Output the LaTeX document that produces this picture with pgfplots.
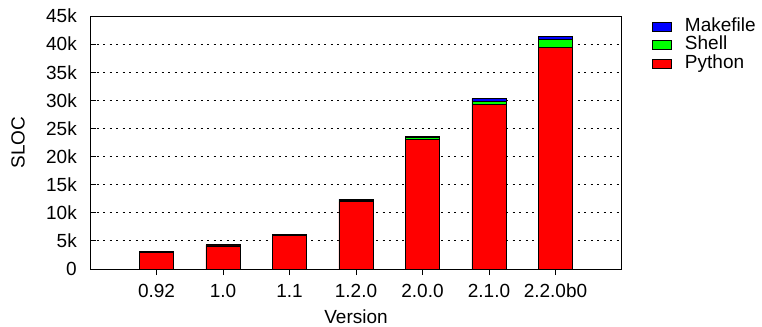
\documentclass[border=0pt]{standalone}
\usepackage{pgfplots}
\pgfplotsset{compat=1.18}
\usepackage{fontspec}
\setmainfont{Liberation Sans}
\definecolor{cR}{RGB}{255,0,0}
\definecolor{cG}{RGB}{0,255,0}
\definecolor{cB}{RGB}{0,0,255}
\begin{document}
\begin{tikzpicture}[font=\fontsize{19bp}{22bp}\selectfont]
\path[use as bounding box] (0,0) rectangle (762bp,327bp);
\begin{axis}[
  at={(90bp,58bp)}, anchor=south west,
  scale only axis, width=532bp, height=253bp,
  xmin=-1, xmax=7, ymin=0, ymax=45000,
  scaled y ticks=false,
  ybar stacked, bar width=34bp,
  axis line style={line width=1bp},
  xtick={0,1,2,3,4,5,6},
  xticklabels={0.92,1.0,1.1,1.2.0,2.0.0,2.1.0,2.2.0b0},
  ytick={0,5000,10000,15000,20000,25000,30000,35000,40000,45000},
  yticklabels={0,5k,10k,15k,20k,25k,30k,35k,40k,45k},
  xtick pos=bottom, ytick pos=left,
  xtick align=outside, ytick align=inside,
  major tick length=6bp,
  tick style={black, line width=0.8bp},
  ymajorgrids,
  grid style={black, line width=0.8bp, dash pattern=on 2bp off 4.5bp},
  yticklabel style={inner sep=0pt, anchor=east, xshift=-13bp},
  xticklabel style={inner sep=0pt, anchor=north, yshift=-9bp},
  xlabel={Version}, ylabel={SLOC},
  xlabel style={at={(axis description cs:0.5,0)}, anchor=north, inner sep=0pt, yshift=-41bp},
  every axis y label/.style={at={(axis description cs:0,0.5)}, xshift=-72bp, rotate=90, anchor=center, inner sep=0pt},
  reverse legend,
  legend style={at={(axis description cs:1,1)}, anchor=north west, xshift=30bp, yshift=-1bp,
    draw=none, fill=none, inner sep=0pt, row sep=0pt,
    nodes={inner sep=0pt, text height=14bp, text depth=4.5bp, anchor=west},
    /tikz/every odd column/.append style={column sep=13bp}},
  legend cell align=left,
  legend image code/.code={\draw[#1,/tikz/.cd,draw=black,line width=0.8bp] (0bp,-4.5bp) rectangle (19bp,4.5bp);},
  every axis plot/.append style={draw=black, line width=0.8bp},
]
\addplot[fill=cR] coordinates {(0,2900) (1,4100) (2,5900) (3,12000) (4,23000) (5,29200) (6,39400)};
\addplot[fill=cG] coordinates {(0,100) (1,100) (2,100) (3,200) (4,400) (5,600) (6,1400)};
\addplot[fill=cB] coordinates {(0,100) (1,100) (2,100) (3,200) (4,200) (5,500) (6,600)};
\legend{Python,Shell,Makefile}
\end{axis}
\end{tikzpicture}
\end{document}
